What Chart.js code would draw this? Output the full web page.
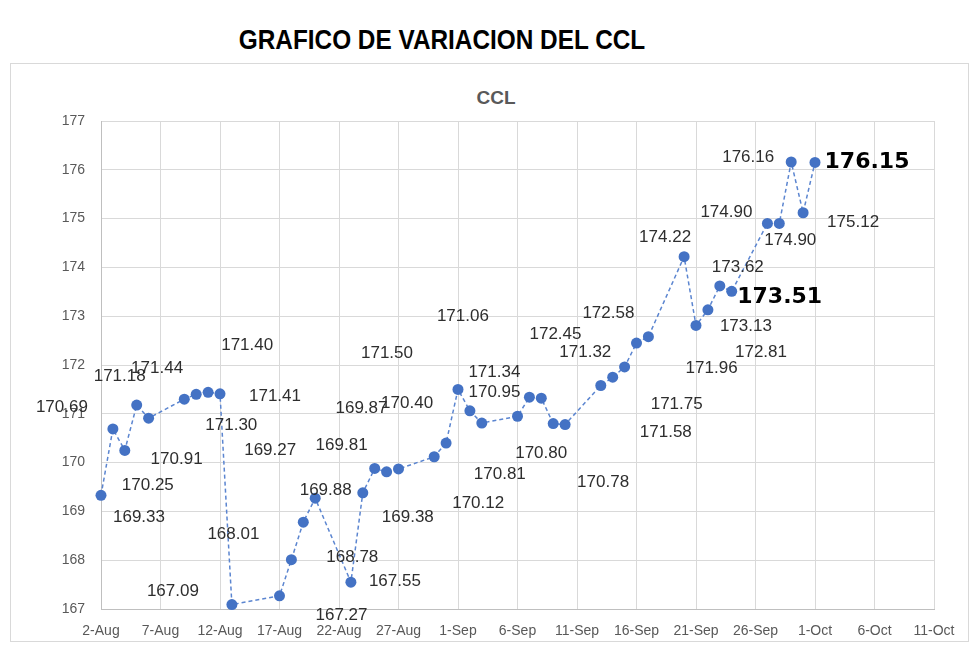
<!DOCTYPE html>
<html>
<head>
<meta charset="utf-8">
<script src="https://cdn.jsdelivr.net/npm/chart.js@4/dist/chart.umd.min.js"></script>
<style>
    html, body { margin: 0; padding: 0; background: #fff; }
    #wrap { position: relative; width: 980px; height: 654px; overflow: hidden; }
    #box { position: absolute; left: 10px; top: 63px; width: 957px; height: 577px; border: 1px solid #d9d9d9; }
    #titulo { position: absolute; left: 0; top: 24px; width: 884px; text-align: center; font: bold 28px "Liberation Sans", Arial, sans-serif; color: #000; transform: scaleX(0.87); transform-origin: 442px 0; white-space: nowrap; }
    #subtitulo { position: absolute; left: 446px; width: 100px; top: 87px; text-align: center; font: bold 19px "Liberation Sans", Arial, sans-serif; color: #595959; }
    canvas { position: absolute; left: 0; top: 0; }
</style>
</head>
<body>
<div id="wrap">
    <div id="box"></div>
    <div id="titulo">GRAFICO DE VARIACION DEL CCL</div>
    <div id="subtitulo">CCL</div>
    <canvas id="chart" width="980" height="654"></canvas>
</div>
<script>
// ruedas del periodo (dias habiles)
const fechas = [
    '2021-08-02', '2021-08-03', '2021-08-04', '2021-08-05', '2021-08-06',
    '2021-08-09', '2021-08-10', '2021-08-11', '2021-08-12', '2021-08-13',
    '2021-08-17', '2021-08-18', '2021-08-19', '2021-08-20',
    '2021-08-23', '2021-08-24', '2021-08-25', '2021-08-26', '2021-08-27',
    '2021-08-30', '2021-08-31', '2021-09-01', '2021-09-02', '2021-09-03',
    '2021-09-06', '2021-09-07', '2021-09-08', '2021-09-09', '2021-09-10',
    '2021-09-13', '2021-09-14', '2021-09-15', '2021-09-16', '2021-09-17',
    '2021-09-20', '2021-09-21', '2021-09-22', '2021-09-23', '2021-09-24',
    '2021-09-27', '2021-09-28', '2021-09-29', '2021-09-30', '2021-10-01'
]
const ccl = [
    169.33, 170.69, 170.25, 171.18, 170.91,
    171.30, 171.40, 171.44, 171.41, 167.09,
    167.27, 168.01, 168.78, 169.27,
    167.55, 169.38, 169.88, 169.81, 169.87,
    170.12, 170.40, 171.50, 171.06, 170.81,
    170.95, 171.34, 171.32, 170.80, 170.78,
    171.58, 171.75, 171.96, 172.45, 172.58,
    174.22, 172.81, 173.13, 173.62, 173.51,
    174.90, 174.90, 176.16, 175.12, 176.15
]
const xTicks = ['2-Aug', '7-Aug', '12-Aug', '17-Aug', '22-Aug', '27-Aug', '1-Sep', '6-Sep', '11-Sep', '16-Sep', '21-Sep', '26-Sep', '1-Oct', '6-Oct', '11-Oct']
const destacados = ['2021-09-24', '2021-10-01']

// desplazamiento de cada etiqueta respecto de su punto (px), como quedaron en el excel
const labelOffsets = [
    [38, 22], [-51, -22], [23, 35], [-17, -29], [28, 41],
    [47, 26], [51, -49], [-51, -24], [55, 3], [-59, -13],
    [62, 19], [-58, -25], [49, 35], [-45, -48],
    [44, -1], [45, 24], [-49, 22], [-45, -27], [-37, -61],
    [44, 47], [-39, -40], [-71, -36], [-7, -95], [18, 51],
    [-23, -24], [-35, -25], [44, -46], [-12, 30], [38, 58],
    [65, 47], [64, 27], [87, 1], [-81, -9], [-40, -23],
    [-19, -19], [65, 27], [38, 16], [18, -19], [48, 6],
    [-41, -11], [11, 17], [-43, -5], [50, 10], [52, 0]
]

const base = Date.UTC(2021, 7, 2)
const dia = (f) => {
    let p = f.split('-')
    return Math.round((Date.UTC(+p[0], +p[1] - 1, +p[2]) - base) / 86400000)
}
const puntos = fechas.map((f, i) => ({x: dia(f), y: ccl[i]}))

const etiquetas = {
    id: 'etiquetas',
    afterDatasetsDraw(chart) {
        let ctx = chart.ctx
        let meta = chart.getDatasetMeta(0)
        ctx.save()
        ctx.textAlign = 'center'
        ctx.textBaseline = 'middle'
        meta.data.forEach((pt, i) => {
            let bold = destacados.includes(fechas[i])
            ctx.font = bold ? 'bold 22px "DejaVu Sans"' : '17px "Liberation Sans"'
            ctx.fillStyle = bold ? '#000' : '#2e2e2e'
            ctx.fillText(ccl[i].toFixed(2), pt.x + labelOffsets[i][0], pt.y + labelOffsets[i][1])
        })
        ctx.restore()
    }
}

const tickFont = {family: '"Liberation Sans", Arial, sans-serif', size: 14}

new Chart(document.getElementById('chart'), {
    type: 'line',
    data: {
        datasets: [{
            data: puntos,
            borderColor: '#5b85d0',
            borderWidth: 1.5,
            borderDash: [4, 3],
            pointRadius: 5.5,
            pointHoverRadius: 5.5,
            pointBackgroundColor: '#4472c4',
            pointBorderWidth: 0,
            tension: 0,
            clip: 10
        }]
    },
    options: {
        responsive: false,
        animation: false,
        events: [],
        layout: {padding: {left: 0, top: 121, right: 46, bottom: 0}},
        plugins: {legend: {display: false}, tooltip: {enabled: false}},
        scales: {
            x: {
                type: 'linear',
                min: 0,
                max: 70,
                afterFit: (s) => { s.height = 45 },
                ticks: {
                    stepSize: 5,
                    autoSkip: false,
                    maxRotation: 0,
                    padding: 14,
                    color: '#595959',
                    font: tickFont,
                    callback: (v) => xTicks[v / 5]
                },
                grid: {color: '#d9d9d9', drawTicks: false},
                border: {color: '#bfbfbf'}
            },
            y: {
                min: 167,
                max: 177,
                afterFit: (s) => { s.width = 101 },
                ticks: {stepSize: 1, padding: 16, color: '#595959', font: tickFont},
                grid: {color: '#d9d9d9', drawTicks: false},
                border: {color: '#bfbfbf'}
            }
        }
    },
    plugins: [etiquetas]
})
</script>
</body>
</html>
